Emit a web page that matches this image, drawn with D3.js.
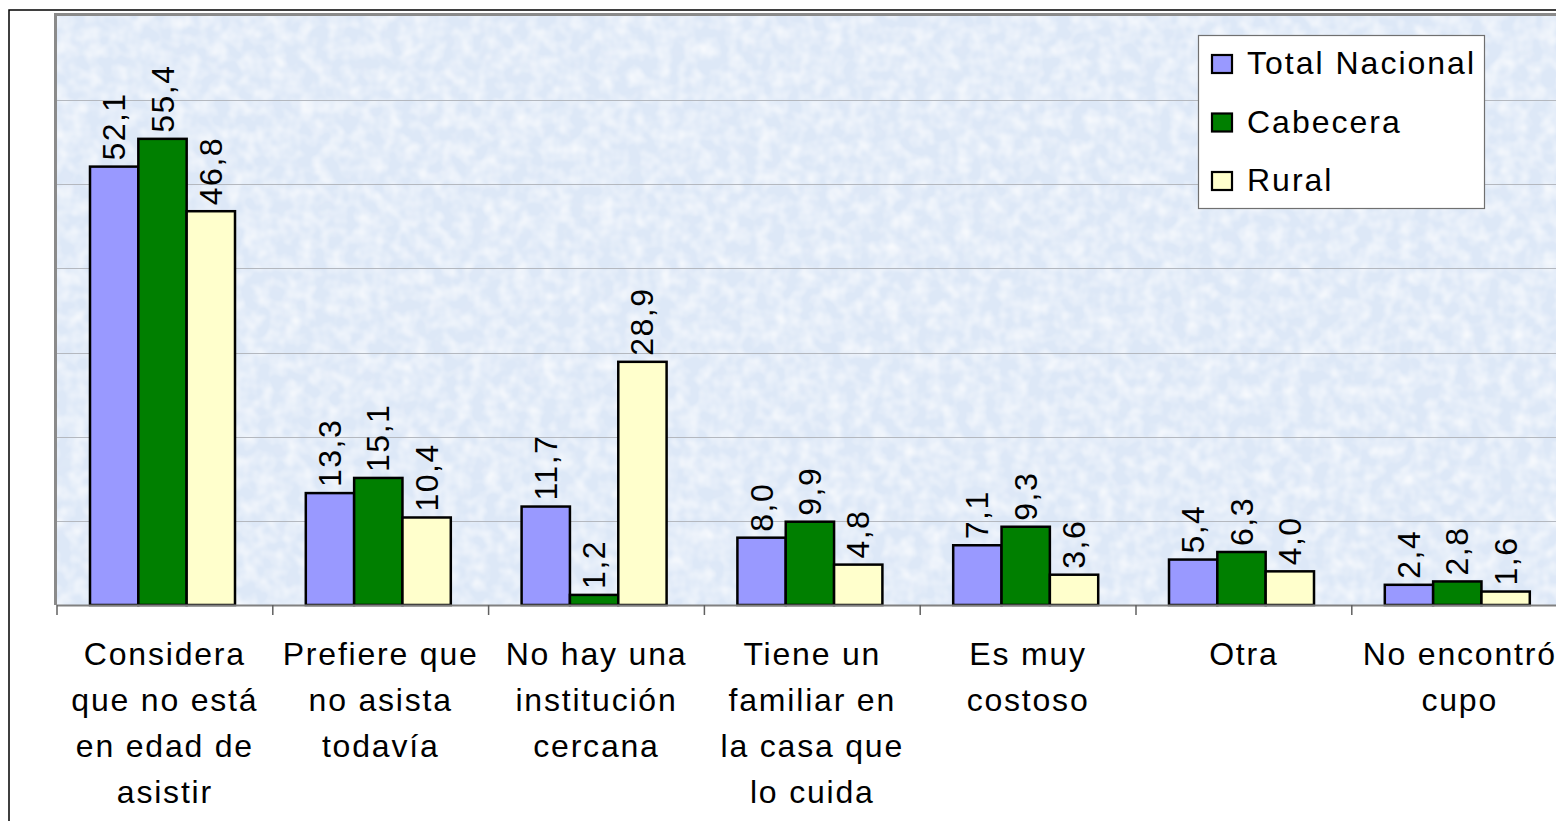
<!DOCTYPE html>
<html>
<head>
<meta charset="utf-8">
<script src="https://cdn.jsdelivr.net/npm/d3@7"></script>
<style>
  html, body { margin: 0; padding: 0; background: #ffffff; }
  svg { display: block; }
</style>
</head>
<body>
<svg id="chart" width="1556" height="821"></svg>
<script>
// ---- data ----
const categories = [
  ["Considera", "que no está", "en edad de", "asistir"],
  ["Prefiere que", "no asista", "todavía"],
  ["No hay una", "institución", "cercana"],
  ["Tiene un", "familiar en", "la casa que", "lo cuida"],
  ["Es muy", "costoso"],
  ["Otra"],
  ["No encontró", "cupo"]
];
const seriesNames = ["Total Nacional", "Cabecera", "Rural"];
const totalNacional = [52.1, 13.3, 11.7, 8.0, 7.1, 5.4, 2.4];
const cabecera      = [55.4, 15.1, 1.2, 9.9, 9.3, 6.3, 2.8];
const rural         = [46.8, 10.4, 28.9, 4.8, 3.6, 4.0, 1.6];
const yTicks = [0, 10, 20, 30, 40, 50, 60, 70];
const colors = ["#9999ff", "#007f00", "#ffffcc"];

const seriesValues = [totalNacional, cabecera, rural];
const catKeys = categories.map((c, i) => "c" + i);

const svg = d3.select("#chart");
const W = 1556, H = 821;

const plotLeft = 57, plotTop = 16, plotBottom = 605;
const bandW = 215.8;
const x = d3.scaleBand().domain(catKeys).range([plotLeft, plotLeft + bandW * categories.length]).padding(0);
const xs = d3.scaleBand().domain(seriesNames).range([33, 33 + 145]).padding(0);
const y = d3.scaleLinear().domain([0, 70]).range([plotBottom, plotTop]);

const loc = d3.formatLocale({decimal: ",", thousands: ".", grouping: [3], currency: ["", ""]});
const fmt = loc.format(".1f");

// outer chart border
svg.append("rect").attr("x", 9).attr("y", 10).attr("width", W + 20).attr("height", H + 20)
  .attr("fill", "#fff").attr("stroke", "#000").attr("stroke-width", 1.5);

// texture
const defs = svg.append("defs");
const f = defs.append("filter").attr("id", "tex").attr("x", 0).attr("y", 0).attr("width", "100%").attr("height", "100%");
f.append("feTurbulence").attr("type", "fractalNoise").attr("baseFrequency", "0.07").attr("numOctaves", 2).attr("seed", 3).attr("result", "n");
f.append("feColorMatrix").attr("in", "n").attr("type", "matrix")
  .attr("values", "0 0 0 0 1  0 0 0 0 1  0 0 0 0 1  1.3 0 0 0 -0.45");
const f2 = defs.append("filter").attr("id", "tex2").attr("x", 0).attr("y", 0).attr("width", "100%").attr("height", "100%");
f2.append("feTurbulence").attr("type", "fractalNoise").attr("baseFrequency", "0.05").attr("numOctaves", 2).attr("seed", 11).attr("result", "n");
f2.append("feColorMatrix").attr("in", "n").attr("type", "matrix")
  .attr("values", "0 0 0 0 0.74  0 0 0 0 0.82  0 0 0 0 0.93  0 1.1 0 0 -0.5");

const plotRight = W + 20;
svg.append("rect").attr("x", plotLeft).attr("y", plotTop).attr("width", plotRight - plotLeft).attr("height", plotBottom - plotTop)
  .attr("fill", "#dde8f7");
svg.append("rect").attr("x", plotLeft).attr("y", plotTop).attr("width", plotRight - plotLeft).attr("height", plotBottom - plotTop)
  .attr("filter", "url(#tex2)");
svg.append("rect").attr("x", plotLeft).attr("y", plotTop).attr("width", plotRight - plotLeft).attr("height", plotBottom - plotTop)
  .attr("filter", "url(#tex)");

// gridlines
svg.append("g").selectAll("line").data(yTicks.filter(t => t > 0 && t < 70)).join("line")
  .attr("x1", plotLeft).attr("x2", plotRight)
  .attr("y1", d => Math.round(y(d)) + 0.5).attr("y2", d => Math.round(y(d)) + 0.5)
  .attr("stroke", "#b4b8bf").attr("stroke-width", 1.2);

// plot border (left/top gray)
svg.append("path")
  .attr("d", `M${plotLeft - 1.5},${plotBottom} V${plotTop - 1.5} H${plotRight}`)
  .attr("fill", "none").attr("stroke", "#8a8a8a").attr("stroke-width", 3);

// bars
const groups = svg.append("g").selectAll("g").data(catKeys).join("g")
  .attr("transform", d => `translate(${x(d)},0)`);
groups.selectAll("rect").data((d, i) => seriesNames.map((s, j) => ({s, j, v: seriesValues[j][i]}))).join("rect")
  .attr("x", d => xs(d.s))
  .attr("width", xs.bandwidth())
  .attr("y", d => y(d.v))
  .attr("height", d => plotBottom - y(d.v))
  .attr("fill", d => colors[d.j])
  .attr("stroke", "#000").attr("stroke-width", 2.5);

// value labels (rotated)
groups.selectAll("text").data((d, i) => seriesNames.map((s, j) => ({s, j, v: seriesValues[j][i]}))).join("text")
  .attr("transform", d => `translate(${xs(d.s) + xs.bandwidth() / 2 + 11},${y(d.v) - 6}) rotate(-90)`)
  .attr("text-anchor", "start")
  .attr("font-family", "Liberation Sans, Arial, sans-serif")
  .attr("font-size", 32).attr("letter-spacing", 1.5)
  .attr("fill", "#000")
  .text(d => fmt(d.v));

// x axis
const ax = svg.append("g").attr("transform", `translate(0,${plotBottom})`);
ax.append("line").attr("x1", plotLeft).attr("x2", plotRight).attr("y1", 0.5).attr("y2", 0.5)
  .attr("stroke", "#808080").attr("stroke-width", 2);
const tickPositions = catKeys.map(k => x(k)).concat([x(catKeys[catKeys.length - 1]) + bandW]);
ax.selectAll("line.tk").data(tickPositions).join("line").attr("class", "tk")
  .attr("x1", d => d).attr("x2", d => d).attr("y1", 0).attr("y2", 10)
  .attr("stroke", "#606060").attr("stroke-width", 1.5);

// category labels
const lab = svg.append("g");
categories.forEach((lines, i) => {
  const cx = x(catKeys[i]) + bandW / 2;
  const t = lab.append("text")
    .attr("x", cx).attr("y", 665)
    .attr("text-anchor", "middle")
    .attr("font-family", "Liberation Sans, Arial, sans-serif")
    .attr("font-size", 32).attr("letter-spacing", 1.8)
    .attr("fill", "#000");
  lines.forEach((ln, k) => {
    t.append("tspan").attr("x", cx).attr("y", 665 + k * 46).text(ln);
  });
});

// legend
const lg = svg.append("g");
lg.append("rect").attr("x", 1198.5).attr("y", 35.5).attr("width", 286).attr("height", 173)
  .attr("fill", "#fff").attr("stroke", "#707070").attr("stroke-width", 1.2);
seriesNames.forEach((s, j) => {
  const cy = 64 + j * 58.5;
  lg.append("rect").attr("x", 1212).attr("y", cy - 9).attr("width", 20).attr("height", 18)
    .attr("fill", colors[j]).attr("stroke", "#000").attr("stroke-width", 2.2);
  lg.append("text").attr("x", 1247).attr("y", cy + 10)
    .attr("font-family", "Liberation Sans, Arial, sans-serif")
    .attr("font-size", 32).attr("letter-spacing", 2)
    .attr("fill", "#000").text(s);
});
</script>
</body>
</html>
